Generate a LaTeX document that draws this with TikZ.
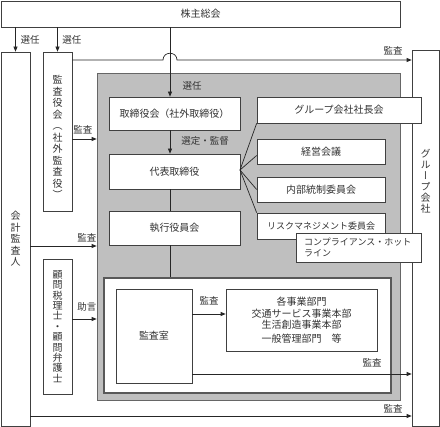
\documentclass[tikz,border=0pt]{standalone}
\usepackage{fontspec}
\newfontfamily\jp{Noto Sans CJK JP}
\newfontfamily\vjp[RawFeature=+vert]{Noto Sans CJK JP}
\usetikzlibrary{arrows.meta,calc}
\begin{document}
\begin{tikzpicture}[x=1pt,y=-1pt,
  every node/.style={text=black!80},
  box/.style={draw=black!75, fill=white, inner sep=0pt, line width=0.7pt, font=\jp\fontsize{10}{12}\selectfont},
  vbox/.style={box, align=center, font=\vjp\fontsize{10}{11.5}\selectfont},
  lbl/.style={inner sep=0pt, font=\jp\fontsize{9.5}{11}\selectfont},
  arr/.style={-{Triangle[length=5pt,width=4pt]}, line width=0.7pt, draw=black!85},
  ln/.style={line width=0.7pt, draw=black!85}]
\useasboundingbox (0,0) rectangle (440,427);
% gray region and inner white box
\node[draw=black!60, fill=black!25, line width=0.7pt, inner sep=0pt, minimum width=303pt, minimum height=327pt] (gray) at (248.5,236.5) {};
\node[draw=black!65, fill=white, line width=1.2pt, inner sep=0pt, minimum width=287pt, minimum height=115pt] (inner) at (247.5,335.5) {};
% outer boxes
\node[box, minimum width=399pt, minimum height=26pt] (kabu) at (200.5,14) {株主総会};
\node[vbox, minimum width=29pt, minimum height=374pt] (kaikei) at (15.5,239) {会\\計\\監\\査\\人};
\node[vbox, minimum width=29pt, minimum height=159pt] (kansa) at (57.5,131.5) {};
\node[font=\vjp\fontsize{10}{11.5}\selectfont, align=center, inner sep=0pt] (kansat) at (57.5,137) {監\\査\\役\\会\\（\\社\\外\\監\\査\\役\\）};
\node[vbox, minimum width=29pt, minimum height=135pt] (komon) at (57.5,326.5) {};
\node[font=\vjp\fontsize{10}{10.4}\selectfont, align=center, inner sep=0pt] (komont) at (57.5,326.5) {顧\\問\\税\\理\\士\\・\\顧\\問\\弁\\護\\士};
\node[vbox, minimum width=27pt, minimum height=376pt] (group) at (425.5,238) {};
\node[font=\vjp\fontsize{10}{11}\selectfont, align=center, inner sep=0pt] (groupt) at (425.5,181) {グ\\ル\\ー\\プ\\会\\社};
% inner boxes
\node[box, minimum width=131pt, minimum height=33pt] (tori) at (174.5,113.5) {取締役会（社外取締役）};
\node[box, minimum width=131pt, minimum height=35pt] (daihyo) at (174.5,171.5) {代表取締役};
\node[box, minimum width=131pt, minimum height=34pt] (shikko) at (174.5,228) {執行役員会};
\node[box, minimum width=164pt, minimum height=26pt] (shacho) at (339,110) {グループ会社社長会};
\node[box, minimum width=128pt, minimum height=25pt] (keiei) at (321,151.5) {経営会議};
\node[box, minimum width=128pt, minimum height=25pt] (naibu) at (321,189.5) {内部統制委員会};
\node[box, minimum width=128pt, minimum height=26pt, font=\jp\fontsize{9}{11}\selectfont] (risk) at (321,226) {リスクマネジメント委員会};
\node[box, minimum width=125pt, minimum height=29pt] (comp) at (358.5,247.5) {};
\node[inner sep=0pt, align=left, anchor=west, font=\jp\fontsize{9}{11}\selectfont] (compt) at (304,247.5) {コンプライアンス・ホット\\ライン};
\node[box, minimum width=76pt, minimum height=94pt] (shitsu) at (154,336) {監査室};
\node[box, minimum width=151pt, minimum height=62pt, align=center, font=\jp\fontsize{10}{11.5}\selectfont] (jigyo) at (301.5,320) {各事業部門\\交通サービス事業本部\\生活創造事業本部\\[2pt]一般管理部門　等};
% coordinates
\coordinate (vx) at (170,0);
\coordinate (fan) at (240,170);
% connectors from 株主総会
\draw[arr] (kabu.south -| kaikei.north) -- (kaikei.north);
\draw[arr] (kabu.south -| kansa.north) -- (kansa.north);
\draw[arr] (kabu.south -| vx) -- (tori.north -| vx);
\node[lbl] at (30,40) {選任};
\node[lbl] at (72,40) {選任};
\node[lbl] at (192,86) {選任};
% 監査役会 -> グループ会社 with hop
\draw[arr] (kansa.east |- 0,60) -- (163,60) .. controls (163,51) and (177,51) .. (177,60) -- (group.west |- 0,60);
\node[lbl] at (393,51) {監査};
% into gray region
\draw[arr] (kansa.east |- 0,139) -- (gray.west |- 0,139);
\node[lbl] at (83,130) {監査};
\draw[arr] (kaikei.east |- 0,246) -- (gray.west |- 0,246);
\node[lbl] at (87,238) {監査};
\draw[arr] (komon.east |- 0,319) -- (gray.west |- 0,319);
\node[lbl] at (87,307) {助言};
% vertical chain
\draw[arr] (tori.south -| vx) -- (daihyo.north -| vx);
\node[lbl] at (205,141) {選定・監督};
\draw[ln] (daihyo.south -| vx) -- (shikko.north -| vx);
\draw[ln] (shikko.south -| vx) -- (inner.north -| vx);
% fan
\draw[ln] (fan) -- (shacho.south west);
\draw[ln] (fan) -- ($(keiei.west)+(0,4)$);
\draw[ln] (fan) -- (naibu.west);
\draw[ln] (fan) -- (risk.north west);
% 監査室
\draw[arr] (shitsu.east |- 0,314) -- (jigyo.west |- 0,314);
\node[lbl] at (209,301) {監査};
\draw[arr] (shitsu.east |- 0,374) -- (group.west |- 0,374);
\node[lbl] at (372,363) {監査};
\draw[arr] (kaikei.east |- 0,416) -- (group.west |- 0,416);
\node[lbl] at (393,409) {監査};
\end{tikzpicture}
\end{document}
